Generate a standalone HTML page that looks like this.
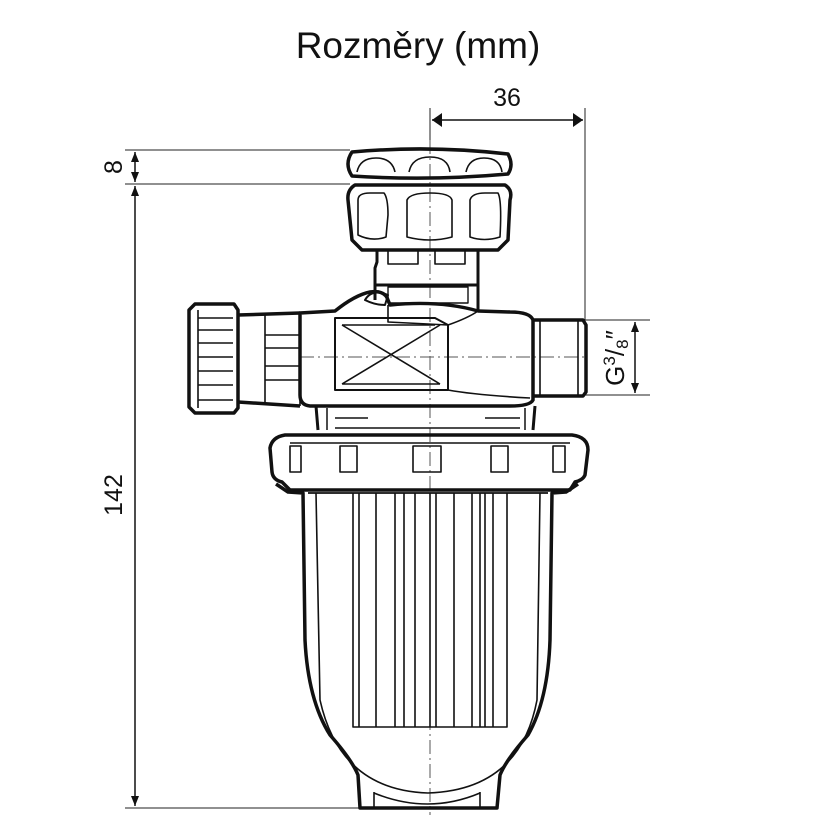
<!DOCTYPE html>
<html><head><meta charset="utf-8"><style>
html,body{margin:0;padding:0;background:#fff;}
svg{display:block;}
text{font-family:"Liberation Sans",sans-serif;fill:#111;}
</style></head><body>
<svg width="830" height="830" viewBox="0 0 830 830" xmlns="http://www.w3.org/2000/svg">
<defs>
<marker id="a" viewBox="0 0 10 10" refX="10" refY="5" markerWidth="10" markerHeight="10" orient="auto-start-reverse" markerUnits="userSpaceOnUse"><path d="M0,1 L10,5 L0,9 z" fill="#111"/></marker>
<marker id="b" viewBox="0 0 10 20" refX="10" refY="10" markerWidth="10" markerHeight="20" orient="auto-start-reverse" markerUnits="userSpaceOnUse"><path d="M0,3 L10,10 L0,17 z" fill="#111"/></marker>
</defs>
<text x="418" y="58" font-size="37" text-anchor="middle">Rozměry (mm)</text>

<g stroke="#222" stroke-width="1" fill="none">
<line x1="430" y1="108" x2="430" y2="150"/>
<line x1="585" y1="108" x2="585" y2="320"/>
<line x1="125" y1="150" x2="350" y2="150"/>
<line x1="125" y1="184" x2="350" y2="184"/>
<line x1="125" y1="808" x2="362" y2="808"/>
<line x1="583" y1="320" x2="650" y2="320"/>
<line x1="583" y1="395" x2="650" y2="395"/>
</g>
<g stroke="#111" stroke-width="1.5" fill="none">
<line x1="432" y1="120" x2="583" y2="120" marker-start="url(#b)" marker-end="url(#b)"/>
<line x1="135" y1="152" x2="135" y2="182" marker-start="url(#a)" marker-end="url(#a)"/>
<line x1="135" y1="186" x2="135" y2="806" marker-start="url(#a)" marker-end="url(#a)"/>
<line x1="635" y1="322" x2="635" y2="393" marker-start="url(#a)" marker-end="url(#a)"/>
</g>
<text x="507" y="106" font-size="25" text-anchor="middle">36</text>
<text transform="translate(122,167) rotate(-90)" font-size="25" text-anchor="middle">8</text>
<text transform="translate(122,495) rotate(-90)" font-size="25" text-anchor="middle">142</text>
<text transform="translate(624,358) rotate(-90)" font-size="26" text-anchor="middle">G<tspan font-size="17" dy="-9">3</tspan><tspan dy="9">/</tspan><tspan font-size="17" dy="4">8</tspan><tspan dy="-4">″</tspan></text>

<g stroke="#555" stroke-width="1" stroke-dasharray="14,4,2,4" fill="none">
<line x1="430" y1="140" x2="430" y2="815"/>
<line x1="300" y1="357" x2="585" y2="357"/>
</g>

<g stroke="#111" fill="none" stroke-linejoin="round">
<path d="M352,152 Q430,145 508,154 Q514,165 508,174 Q430,181 352,176 Q344,164 352,152Z" stroke-width="3.5"/>
<path d="M357,172 Q360,158 376,158 Q392,158 395,172 M409,172 Q412,157 430,157 Q448,157 450,172 M466,172 Q469,158 484,158 Q500,158 502,172" stroke-width="1.6"/>
<path d="M355,185 L505,185 Q513,190 510,200 L508,240 L498,250 L362,250 L352,240 L348,200 Q347,190 355,185Z" stroke-width="3.5"/>
<path d="M358,235 L358,200 Q358,193 370,193 L384,193 Q388,198 388,215 L386,237 Q372,242 358,235Z M407,237 L407,200 Q410,193 430,193 Q450,193 452,200 L452,237 Q430,243 407,237Z M470,237 L470,200 Q472,193 485,193 L498,193 Q502,200 500,237 Q484,242 470,237Z" stroke-width="1.6"/>
<path d="M377,250 L377,262 L375,268 L375,285 L478,285 L478,250" stroke-width="3"/>
<path d="M388,250 L388,264 L418,264 L418,250 M435,250 L435,264 L465,264 L465,250" stroke-width="1.6"/>
<path d="M375,285 L375,300 M478,285 L478,311" stroke-width="3"/>
<path d="M388,287 L468,287 L468,303 L388,303Z" stroke-width="1.4"/>
<path d="M300,313 L335,311 Q355,295 370,292 Q385,290 388,300 L390,305 Q440,300 478,311 L510,312 Q530,312 533,320 L533,400 Q530,406 510,406 L310,406 Q300,405 300,395Z" stroke-width="3.5"/>
<path d="M365,300 Q372,288 388,295 L385,305 Q375,305 365,300Z" stroke-width="2"/>
<path d="M335,318 L435,318 L448,325 L448,390 L335,390Z" stroke-width="2"/>
<path d="M342,325 L435,325 M342,384 L440,384 M342,325 L440,384 M342,384 L440,325" stroke-width="1.6"/>
<path d="M388,305 L388,322 L448,325 Q468,318 478,311" stroke-width="1.6"/>
<path d="M448,390 Q475,395 530,398" stroke-width="1.6"/>
<path d="M533,320 L583,320 L586,325 L586,392 L583,396 L533,396" stroke-width="3.5"/>
<path d="M540,320 L540,396 M578,320 L578,396" stroke-width="1.6"/>
<path d="M238,315 L300,313 M238,402 L300,406" stroke-width="3.5"/>
<path d="M265,314 L265,404 M300,313 L300,406 M265,335 L300,335 M265,348 L300,348 M265,366 L300,366 M265,380 L300,380" stroke-width="1.6"/>
<path d="M195,304 L234,304 L238,310 L238,408 L234,413 L195,413 L189,407 L189,310Z" stroke-width="3.5"/>
<path d="M198,318 L233,318 M198,330 L233,330 M198,343 L233,343 M198,357 L233,357 M198,371 L233,371 M198,385 L233,385 M198,400 L233,400 M198,310 L198,408" stroke-width="1.6"/>
<path d="M316,406 L318,430 M535,406 L533,430" stroke-width="3"/>
<path d="M327,408 L327,430 M525,408 L525,430 M335,418 L368,418 M485,418 L520,418 M335,428 L520,428" stroke-width="1.5"/>
<path d="M285,435 L572,435 Q588,437 588,450 L585,475 Q583,480 575,482 L570,490 L290,490 L282,482 Q273,480 272,472 L270,448 Q272,437 285,435Z" stroke-width="3.5"/>
<path d="M290,443 L570,443" stroke-width="1.6"/>
<g stroke-width="1.6">
<path d="M290,446 L301,446 L301,472 L290,472Z"/>
<path d="M340,446 L357,446 L357,472 L340,472Z"/>
<path d="M413,446 L441,446 L441,472 L413,472Z"/>
<path d="M491,446 L508,446 L508,472 L491,472Z"/>
<path d="M553,446 L565,446 L565,472 L553,472Z"/>
</g>
<path d="M276,484 L288,492 L303,493 L305,640 Q308,700 330,735 Q352,760 358,775 L360,808 L497,808 L500,775 Q506,760 528,735 Q548,700 550,640 L552,493 L566,492 L578,484" stroke-width="3.5"/>
<path d="M308,493 L548,493" stroke-width="1.8"/>
<path d="M316,493 L320,700 Q340,790 428,793 Q520,790 537,700 L540,493" stroke-width="1.6"/>
<path d="M374,808 L374,792 M480,808 L480,792 M374,793 Q428,815 480,793" stroke-width="1.6"/>
<path d="M353,493 L353,727 L507,727 L507,493" stroke-width="1.6"/>
<path d="M359,493 V727 M376,493 V727 M395,493 V727 M404,493 V727 M415,493 V727 M430,493 V727 M436,493 V727 M454,493 V727 M472,493 V727 M480,493 V727 M485,493 V727 M493,493 V727" stroke-width="1.6"/>
</g>
</svg>
</body></html>
